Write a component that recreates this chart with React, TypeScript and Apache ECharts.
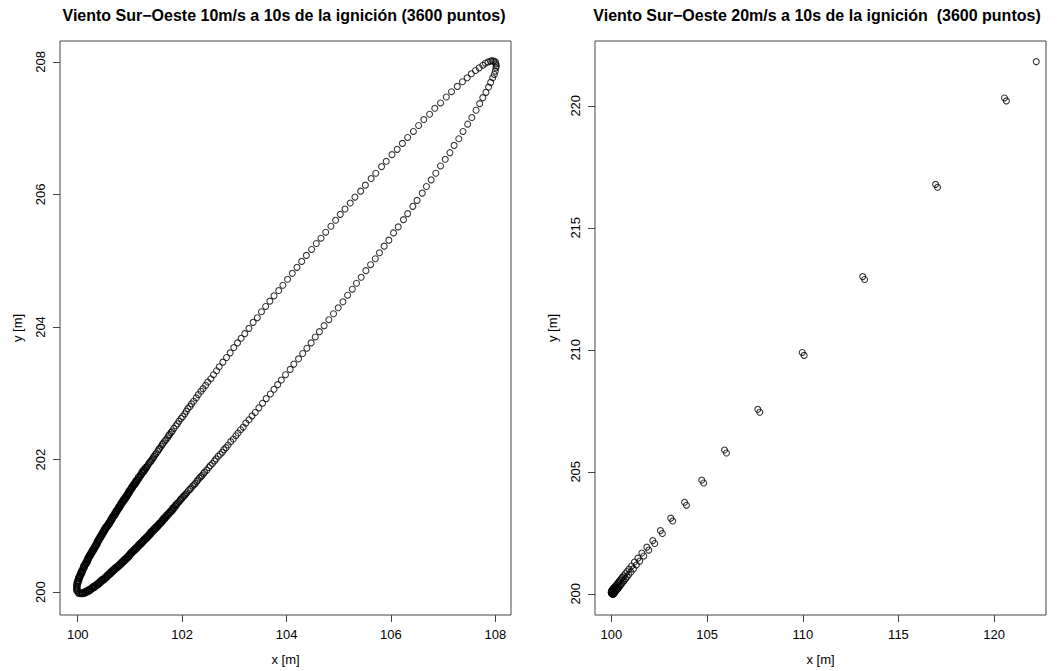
import React, { useEffect, useRef } from "react";
import * as echarts from "echarts";

// ---- Data ----
const titleLeft = "Viento Sur−Oeste 10m/s a 10s de la ignición (3600 puntos)";
const titleRight = "Viento Sur−Oeste 20m/s a 10s de la ignición  (3600 puntos)";
const xAxisName = "x [m]";
const yAxisName = "y [m]";

const leftXTicks = [100, 102, 104, 106, 108];
const leftYTicks = [200, 202, 204, 206, 208];
const rightXTicks = [100, 105, 110, 115, 120];
const rightYTicks = [200, 205, 210, 215, 220];

// 10 m/s: upper (north-west) side of the front, from the head to the ignition point
const leftUpper: number[][] = [
  [108.00, 208.00],
  [107.97, 208.01], [107.94, 208.02], [107.91, 208.01], [107.86, 208.00], [107.81, 207.98], [107.76, 207.95], [107.69, 207.91], [107.62, 207.87], [107.54, 207.82], [107.46, 207.76], [107.37, 207.70], [107.27, 207.63], [107.16, 207.55],
  [107.06, 207.47], [106.95, 207.38], [106.84, 207.30], [106.74, 207.21], [106.63, 207.13], [106.53, 207.04], [106.43, 206.95], [106.32, 206.86], [106.22, 206.77], [106.12, 206.68], [106.02, 206.60], [105.91, 206.50], [105.82, 206.42], [105.71, 206.32], [105.62, 206.24], [105.51, 206.14], [105.42, 206.05], [105.31, 205.96],
  [105.22, 205.87], [105.12, 205.78], [105.03, 205.70], [104.94, 205.61], [104.85, 205.52], [104.75, 205.43], [104.66, 205.34], [104.57, 205.26], [104.48, 205.17], [104.38, 205.08], [104.29, 204.99], [104.20, 204.90], [104.11, 204.81], [104.02, 204.72], [103.93, 204.63],
  [103.85, 204.55], [103.76, 204.47], [103.68, 204.39], [103.60, 204.31], [103.52, 204.23], [103.44, 204.14], [103.36, 204.07], [103.28, 203.98], [103.20, 203.90],
  [103.13, 203.83], [103.06, 203.76], [102.99, 203.69], [102.92, 203.61], [102.85, 203.54], [102.78, 203.47], [102.71, 203.40],
  [102.66, 203.34], [102.60, 203.28], [102.55, 203.22], [102.49, 203.17],
  [102.45, 203.12], [102.40, 203.07], [102.36, 203.03], [102.31, 202.98], [102.27, 202.93], [102.22, 202.88], [102.18, 202.84],
  [102.15, 202.80], [102.11, 202.77], [102.08, 202.73], [102.05, 202.69], [102.01, 202.65], [101.98, 202.62], [101.94, 202.58], [101.91, 202.54], [101.88, 202.51], [101.84, 202.47], [101.81, 202.43],
  [101.79, 202.41], [101.76, 202.38], [101.74, 202.36], [101.72, 202.33], [101.69, 202.30], [101.67, 202.28], [101.64, 202.25], [101.62, 202.23], [101.60, 202.20], [101.57, 202.17], [101.55, 202.15], [101.53, 202.12], [101.50, 202.09], [101.48, 202.07],
  [101.46, 202.05], [101.45, 202.03], [101.43, 202.01], [101.41, 201.99], [101.40, 201.97], [101.38, 201.96], [101.36, 201.94], [101.35, 201.92], [101.33, 201.90], [101.32, 201.88], [101.30, 201.86], [101.28, 201.84], [101.27, 201.82], [101.25, 201.81], [101.23, 201.79], [101.22, 201.77], [101.20, 201.75], [101.18, 201.73], [101.17, 201.71], [101.15, 201.69],
  [101.13, 201.67], [101.12, 201.65], [101.10, 201.63], [101.09, 201.62], [101.07, 201.60], [101.05, 201.58], [101.04, 201.56], [101.02, 201.54], [101.00, 201.52], [100.99, 201.50], [100.97, 201.48], [100.96, 201.46], [100.94, 201.44], [100.92, 201.42], [100.91, 201.40], [100.89, 201.39], [100.88, 201.37], [100.86, 201.35], [100.84, 201.33], [100.83, 201.31],
  [100.81, 201.29], [100.80, 201.27], [100.78, 201.25], [100.76, 201.23], [100.75, 201.21], [100.73, 201.19], [100.72, 201.17], [100.70, 201.15], [100.68, 201.13], [100.67, 201.11], [100.65, 201.09], [100.64, 201.07], [100.62, 201.05], [100.61, 201.03], [100.59, 201.01], [100.57, 200.99], [100.56, 200.98], [100.54, 200.96], [100.53, 200.94], [100.51, 200.92],
  [100.50, 200.90], [100.48, 200.88], [100.47, 200.86], [100.45, 200.84], [100.44, 200.82], [100.42, 200.80], [100.41, 200.78], [100.39, 200.76], [100.38, 200.73], [100.36, 200.71], [100.35, 200.69], [100.33, 200.67], [100.32, 200.65], [100.30, 200.63], [100.29, 200.61], [100.27, 200.59], [100.26, 200.57], [100.24, 200.55], [100.23, 200.53], [100.21, 200.51],
  [100.20, 200.49], [100.19, 200.46], [100.17, 200.44], [100.16, 200.42], [100.14, 200.40], [100.13, 200.38], [100.12, 200.36], [100.10, 200.33], [100.09, 200.31], [100.08, 200.29], [100.07, 200.27], [100.05, 200.24], [100.04, 200.22], [100.03, 200.20], [100.02, 200.17], [100.01, 200.15], [100.00, 200.12], [99.99, 200.09], [99.99, 200.06], [99.99, 200.03],
  [100.00, 200.00],
];

// 10 m/s: more points packed into the dark rear part of the upper side
const leftUpperRear: number[][] = [
  [101.30, 201.885], [101.26, 201.845], [101.23, 201.815], [101.20, 201.775], [101.16, 201.735], [101.13, 201.695],
  [101.11, 201.675], [101.10, 201.655], [101.08, 201.635], [101.07, 201.625], [101.05, 201.605], [101.03, 201.585], [101.02, 201.565], [101.00, 201.545], [100.98, 201.525], [100.97, 201.505], [100.95, 201.485], [100.94, 201.465], [100.92, 201.445], [100.90, 201.425], [100.89, 201.405], [100.87, 201.395], [100.86, 201.375], [100.84, 201.355], [100.82, 201.335], [100.81, 201.315],
  [100.79, 201.295], [100.78, 201.275], [100.76, 201.255], [100.74, 201.235], [100.73, 201.215], [100.71, 201.195], [100.70, 201.175], [100.68, 201.155], [100.66, 201.135], [100.65, 201.115], [100.63, 201.095], [100.62, 201.075], [100.60, 201.055], [100.59, 201.035], [100.57, 201.015], [100.55, 200.995], [100.54, 200.985], [100.52, 200.965], [100.51, 200.945], [100.49, 200.925],
  [100.48, 200.905], [100.46, 200.885], [100.45, 200.865], [100.43, 200.845], [100.42, 200.825], [100.40, 200.805], [100.39, 200.785], [100.37, 200.765], [100.36, 200.735], [100.34, 200.715], [100.33, 200.695], [100.31, 200.675], [100.30, 200.655], [100.28, 200.635], [100.27, 200.615], [100.25, 200.595], [100.24, 200.575], [100.22, 200.555], [100.21, 200.535], [100.19, 200.515],
  [100.18, 200.495], [100.17, 200.465], [100.15, 200.445], [100.14, 200.425], [100.12, 200.405], [100.11, 200.385], [100.10, 200.365], [100.08, 200.335], [100.07, 200.315], [100.06, 200.295], [100.05, 200.275], [100.03, 200.245], [100.02, 200.225], [100.01, 200.205], [100.00, 200.175], [99.99, 200.155], [99.98, 200.125], [99.975, 200.09], [99.975, 200.055], [99.98, 200.02],
];

// 10 m/s: lower (south-east) side of the front
const leftLower: number[][] = [
  [108.01, 207.97], [108.02, 207.94], [108.01, 207.91], [108.00, 207.86], [107.98, 207.81], [107.95, 207.76], [107.91, 207.69], [107.87, 207.62], [107.82, 207.54], [107.76, 207.46], [107.70, 207.37], [107.63, 207.27], [107.55, 207.16],
  [107.47, 207.06], [107.38, 206.95], [107.30, 206.84], [107.21, 206.74], [107.13, 206.63], [107.04, 206.53], [106.95, 206.43], [106.86, 206.32], [106.77, 206.22], [106.68, 206.12], [106.60, 206.02], [106.50, 205.91], [106.42, 205.82], [106.32, 205.71], [106.24, 205.62], [106.14, 205.51], [106.05, 205.42], [105.96, 205.31],
  [105.87, 205.22], [105.78, 205.12], [105.70, 205.03], [105.61, 204.94], [105.52, 204.85], [105.43, 204.75], [105.34, 204.66], [105.26, 204.57], [105.17, 204.48], [105.08, 204.38], [104.99, 204.29], [104.90, 204.20], [104.81, 204.11], [104.72, 204.02], [104.63, 203.93],
  [104.55, 203.85], [104.47, 203.76], [104.39, 203.68], [104.31, 203.60], [104.23, 203.52], [104.14, 203.44], [104.07, 203.36], [103.98, 203.28], [103.90, 203.20],
  [103.83, 203.13], [103.76, 203.06], [103.69, 202.99], [103.61, 202.92], [103.54, 202.85], [103.47, 202.78], [103.40, 202.71],
  [103.34, 202.66], [103.28, 202.60], [103.22, 202.55], [103.17, 202.49],
  [103.12, 202.45], [103.07, 202.40], [103.03, 202.36], [102.98, 202.31], [102.93, 202.27], [102.88, 202.22], [102.84, 202.18],
  [102.80, 202.15], [102.77, 202.11], [102.73, 202.08], [102.69, 202.05], [102.65, 202.01], [102.62, 201.98], [102.58, 201.94], [102.54, 201.91], [102.51, 201.88], [102.47, 201.84], [102.43, 201.81],
  [102.41, 201.79], [102.38, 201.76], [102.36, 201.74], [102.33, 201.72], [102.30, 201.69], [102.28, 201.67], [102.25, 201.64], [102.23, 201.62], [102.20, 201.60], [102.17, 201.57], [102.15, 201.55], [102.12, 201.53], [102.09, 201.50], [102.07, 201.48],
  [102.05, 201.46], [102.03, 201.45], [102.01, 201.43], [101.99, 201.41], [101.97, 201.40], [101.96, 201.38], [101.94, 201.36], [101.92, 201.35], [101.90, 201.33], [101.88, 201.32], [101.86, 201.30], [101.84, 201.28], [101.82, 201.27], [101.81, 201.25], [101.79, 201.23], [101.77, 201.22], [101.75, 201.20], [101.73, 201.18], [101.71, 201.17], [101.69, 201.15],
  [101.67, 201.13], [101.65, 201.12], [101.63, 201.10], [101.62, 201.09], [101.60, 201.07], [101.58, 201.05], [101.56, 201.04], [101.54, 201.02], [101.52, 201.00], [101.50, 200.99], [101.48, 200.97], [101.46, 200.96], [101.44, 200.94], [101.42, 200.92], [101.40, 200.91], [101.39, 200.89], [101.37, 200.88], [101.35, 200.86], [101.33, 200.84], [101.31, 200.83],
  [101.29, 200.81], [101.27, 200.80], [101.25, 200.78], [101.23, 200.76], [101.21, 200.75], [101.19, 200.73], [101.17, 200.72], [101.15, 200.70], [101.13, 200.68], [101.11, 200.67], [101.09, 200.65], [101.07, 200.64], [101.05, 200.62], [101.03, 200.61], [101.01, 200.59], [100.99, 200.57], [100.98, 200.56], [100.96, 200.54], [100.94, 200.53], [100.92, 200.51],
  [100.90, 200.50], [100.88, 200.48], [100.86, 200.47], [100.84, 200.45], [100.82, 200.44], [100.80, 200.42], [100.78, 200.41], [100.76, 200.39], [100.73, 200.38], [100.71, 200.36], [100.69, 200.35], [100.67, 200.33], [100.65, 200.32], [100.63, 200.30], [100.61, 200.29], [100.59, 200.27], [100.57, 200.26], [100.55, 200.24], [100.53, 200.23], [100.51, 200.21],
  [100.49, 200.20], [100.46, 200.19], [100.44, 200.17], [100.42, 200.16], [100.40, 200.14], [100.38, 200.13], [100.36, 200.12], [100.33, 200.10], [100.31, 200.09], [100.29, 200.08], [100.27, 200.07], [100.24, 200.05], [100.22, 200.04], [100.20, 200.03], [100.17, 200.02], [100.15, 200.01], [100.12, 200.00], [100.09, 199.99], [100.06, 199.99], [100.03, 199.99],
];

// 10 m/s: more points packed into the dark rear part of the lower side
const leftLowerRear: number[][] = [
  [101.885, 201.30], [101.845, 201.26], [101.815, 201.23], [101.775, 201.20], [101.735, 201.16], [101.695, 201.13],
  [101.675, 201.11], [101.655, 201.10], [101.635, 201.08], [101.625, 201.07], [101.605, 201.05], [101.585, 201.03], [101.565, 201.02], [101.545, 201.00], [101.525, 200.98], [101.505, 200.97], [101.485, 200.95], [101.465, 200.94], [101.445, 200.92], [101.425, 200.90], [101.405, 200.89], [101.395, 200.87], [101.375, 200.86], [101.355, 200.84], [101.335, 200.82], [101.315, 200.81],
  [101.295, 200.79], [101.275, 200.78], [101.255, 200.76], [101.235, 200.74], [101.215, 200.73], [101.195, 200.71], [101.175, 200.70], [101.155, 200.68], [101.135, 200.66], [101.115, 200.65], [101.095, 200.63], [101.075, 200.62], [101.055, 200.60], [101.035, 200.59], [101.015, 200.57], [100.995, 200.55], [100.985, 200.54], [100.965, 200.52], [100.945, 200.51], [100.925, 200.49],
  [100.905, 200.48], [100.885, 200.46], [100.865, 200.45], [100.845, 200.43], [100.825, 200.42], [100.805, 200.40], [100.785, 200.39], [100.765, 200.37], [100.735, 200.36], [100.715, 200.34], [100.695, 200.33], [100.675, 200.31], [100.655, 200.30], [100.635, 200.28], [100.615, 200.27], [100.595, 200.25], [100.575, 200.24], [100.555, 200.22], [100.535, 200.21], [100.515, 200.19],
  [100.495, 200.18], [100.465, 200.17], [100.445, 200.15], [100.425, 200.14], [100.405, 200.12], [100.385, 200.11], [100.365, 200.10], [100.335, 200.08], [100.315, 200.07], [100.295, 200.06], [100.275, 200.05], [100.245, 200.03], [100.225, 200.02], [100.205, 200.01], [100.175, 200.00], [100.155, 199.99], [100.125, 199.98], [100.09, 199.975], [100.055, 199.975], [100.02, 199.98],
];

// 20 m/s: the two sides of the front (points come in near-coincident pairs)
const rightSideA: number[][] = [
  [122.20, 221.81],
  [120.54, 220.32], [116.94, 216.78], [113.13, 213.00], [109.97, 209.89], [107.65, 207.56], [105.91, 205.89], [104.72, 204.66], [103.82, 203.75], [103.10, 203.10], [102.56, 202.59],
  [102.16, 202.18], [101.85, 201.91], [101.59, 201.67], [101.38, 201.46], [101.20, 201.30], [101.05, 201.14], [100.92, 201.01], [100.81, 200.91], [100.72, 200.82], [100.64, 200.74],
  [100.57, 200.67], [100.51, 200.61], [100.45, 200.55], [100.40, 200.50], [100.36, 200.46], [100.32, 200.42], [100.28, 200.38], [100.25, 200.35], [100.22, 200.32], [100.19, 200.29],
  [100.16, 200.27], [100.14, 200.25], [100.12, 200.23], [100.10, 200.21], [100.08, 200.19], [100.06, 200.17], [100.04, 200.15], [100.03, 200.14], [100.02, 200.12], [100.01, 200.11],
  [100.00, 200.10], [100.00, 200.08], [99.99, 200.07], [99.99, 200.05], [99.99, 200.04], [100.00, 200.02],
];
const rightSideB: number[][] = [
  [120.64, 220.20], [117.04, 216.66], [113.23, 212.88], [110.07, 209.77], [107.75, 207.44], [106.01, 205.77], [104.82, 204.54], [103.92, 203.63], [103.20, 202.98], [102.66, 202.47],
  [102.26, 202.06], [101.95, 201.79], [101.69, 201.55], [101.48, 201.34], [101.30, 201.18], [101.15, 201.02], [101.02, 200.89], [100.91, 200.79], [100.82, 200.70], [100.74, 200.62],
  [100.67, 200.55], [100.61, 200.49], [100.55, 200.43], [100.50, 200.38], [100.46, 200.34], [100.42, 200.30], [100.38, 200.26], [100.35, 200.23], [100.32, 200.20], [100.29, 200.17],
  [100.26, 200.15], [100.24, 200.13], [100.22, 200.11], [100.20, 200.09], [100.18, 200.07], [100.16, 200.05], [100.14, 200.03], [100.13, 200.02], [100.12, 200.00], [100.11, 199.99],
  [100.10, 199.98], [100.08, 199.98], [100.07, 199.99], [100.05, 199.99], [100.04, 199.99], [100.02, 200.00],
];

const FONT = '"Liberation Sans", Arial, Helvetica, sans-serif';

function makeXAxis(gridIndex: number, min: number, max: number, ticks: number[]) {
  return {
    type: "value",
    gridIndex,
    min,
    max,
    name: xAxisName,
    nameLocation: "middle",
    nameGap: 38,
    nameTextStyle: { fontSize: 13, color: "#000", fontFamily: FONT },
    axisLine: { show: false },
    axisTick: { show: true, inside: false, length: 7, customValues: ticks, lineStyle: { color: "#444", width: 1 } },
    axisLabel: { customValues: ticks, fontSize: 13, color: "#000", fontFamily: FONT, margin: 13 },
    splitLine: { show: false },
  };
}

function makeYAxis(gridIndex: number, min: number, max: number, ticks: number[]) {
  return {
    type: "value",
    gridIndex,
    min,
    max,
    name: yAxisName,
    nameLocation: "middle",
    nameGap: 36,
    nameRotate: 90,
    nameTextStyle: { fontSize: 13, color: "#000", fontFamily: FONT },
    axisLine: { show: false },
    axisTick: { show: true, inside: false, length: 7, customValues: ticks, lineStyle: { color: "#444", width: 1 } },
    axisLabel: { customValues: ticks, rotate: 90, fontSize: 13, color: "#000", fontFamily: FONT, margin: 13 },
    splitLine: { show: false },
  };
}

function scatter(data: number[][], idx: number) {
  return {
    type: "scatter",
    xAxisIndex: idx,
    yAxisIndex: idx,
    data,
    symbol: "circle",
    symbolSize: 6,
    silent: true,
    itemStyle: { color: "rgba(0,0,0,0)", borderColor: "#000", borderWidth: 1.05 },
    emphasis: { disabled: true },
  };
}

export default function App() {
  const ref = useRef<HTMLDivElement>(null);
  useEffect(() => {
    if (!ref.current) return;
    const chart = echarts.init(ref.current, undefined, { renderer: "svg", width: 1060, height: 671 });
    chart.setOption({
      animation: false,
      backgroundColor: "#fff",
      title: [
        {
          text: titleLeft,
          left: 284,
          top: 7,
          padding: 0,
          textAlign: "center",
          textStyle: { fontSize: 16, fontWeight: "bold", color: "#000", fontFamily: FONT },
        },
        {
          text: titleRight,
          left: 817,
          top: 7,
          padding: 0,
          textAlign: "center",
          textStyle: { fontSize: 16, fontWeight: "bold", color: "#000", fontFamily: FONT },
        },
      ],
      grid: [
        { left: 60, top: 41, width: 451, height: 577, show: true, borderColor: "#444", borderWidth: 1, backgroundColor: "transparent" },
        { left: 595, top: 41, width: 451, height: 576, show: true, borderColor: "#444", borderWidth: 1, backgroundColor: "transparent" },
      ],
      xAxis: [makeXAxis(0, 99.66, 108.3, leftXTicks), makeXAxis(1, 99.14, 122.71, rightXTicks)],
      yAxis: [makeYAxis(0, 199.655, 208.315, leftYTicks), makeYAxis(1, 199.13, 222.655, rightYTicks)],
      series: [
        scatter(leftUpper, 0),
        scatter(leftUpperRear, 0),
        scatter(leftLower, 0),
        scatter(leftLowerRear, 0),
        scatter(rightSideA, 1),
        scatter(rightSideB, 1),
      ],
    });
    return () => chart.dispose();
  }, []);
  return <div ref={ref} style={{ position: "absolute", left: 0, top: 0, width: 1060, height: 671 }} />;
}
